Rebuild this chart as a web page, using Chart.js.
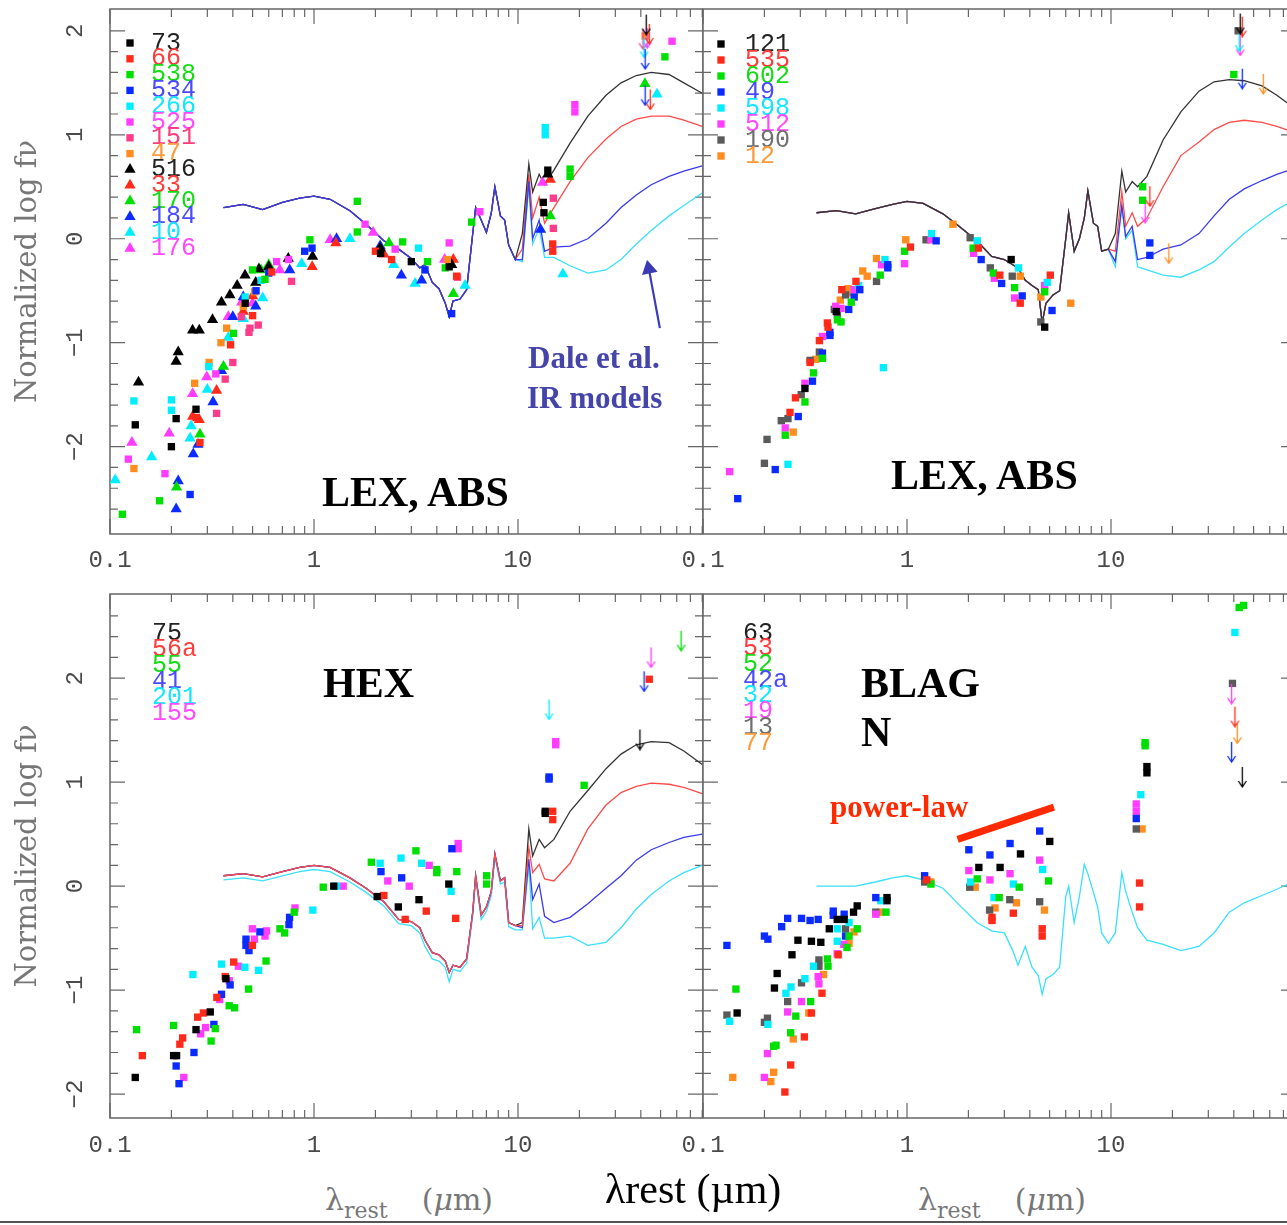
<!DOCTYPE html>
<html lang="en">
<head>
<meta charset="UTF-8">
<title>SED panels: LEX ABS, HEX, BLAGN</title>
<script src="https://cdn.jsdelivr.net/npm/chart.js@4"></script>
<style>
  html, body { margin: 0; padding: 0; background: #fff; overflow: hidden; }
  .page { position: relative; width: 1287px; height: 1225px; overflow: hidden; background: #fff; }
  canvas { position: absolute; }
  .tag { position: absolute; white-space: nowrap; line-height: 1; font-family: "Liberation Serif", "Times New Roman", serif; font-weight: bold; }
  .axt { position: absolute; white-space: nowrap; line-height: 1; font-family: "DejaVu Serif", serif; color: #777; font-size: 30px; }
  .axt sub { font-size: 22px; vertical-align: -8px; margin-right: 34px; }
  .rule { position: absolute; left: 0; top: 1221px; width: 1287px; height: 2px; background: #555; }
</style>
</head>
<body>
<div class="page">
  <canvas id="tl" width="703" height="575" style="left:0;top:0"></canvas>
  <canvas id="tr" width="696" height="575" style="left:600px;top:0"></canvas>
  <canvas id="bl" width="703" height="605" style="left:0;top:575px"></canvas>
  <canvas id="br" width="696" height="605" style="left:600px;top:575px"></canvas>

  <div class="tag" style="left:322px;top:471px;font-size:42px">LEX, ABS</div>
  <div class="tag" style="left:891px;top:454px;font-size:42px">LEX, ABS</div>
  <div class="tag" style="left:323px;top:662px;font-size:42px">HEX</div>
  <div class="tag" style="left:861px;top:662px;font-size:42px">BLAG</div>
  <div class="tag" style="left:861px;top:711px;font-size:42px">N</div>
  <div class="tag" style="left:528px;top:342px;font-size:31px;color:#4444aa">Dale et al.</div>
  <div class="tag" style="left:527px;top:382px;font-size:31px;color:#4444aa">IR models</div>
  <div class="tag" style="left:830px;top:791px;font-size:31px;color:#ff2a00">power-law</div>

  <div class="axt" style="left:325px;top:1185px">λ<sub>rest</sub>(<i>μ</i>m)</div>
  <div class="axt" style="left:918px;top:1185px">λ<sub>rest</sub>(<i>μ</i>m)</div>
  <div style="position:absolute;left:605px;top:1168px;line-height:1;font-family:'Liberation Serif',serif;font-size:42px;color:#000;white-space:nowrap">λrest (µm)</div>
  <div class="rule"></div>
</div>

<script>
// ---------- data ----------
// model wavelength grid (micron): stellar/PAH part and far-IR part
const baseLam = [0.36, 0.45, 0.56, 0.7, 0.85, 1.0, 1.2, 1.5, 1.8, 2.2, 2.6, 3.0, 3.3, 3.5, 3.8, 4.1, 4.4, 4.6, 4.8, 5.2, 5.6, 6.0, 6.2, 6.6, 7.0, 7.4, 7.7, 8.2, 8.6, 9.0, 9.7];
const tailLam = [10.5, 11.3, 11.8, 12.7, 13.5, 15, 18, 22, 27, 32, 38, 45, 55, 65, 80];

// top-left models
const tlBase = [0.30, 0.33, 0.28, 0.35, 0.39, 0.41, 0.38, 0.27, 0.14, -0.02, -0.10, -0.19, -0.28, -0.25, -0.42, -0.48, -0.62, -0.75, -0.60, -0.58, -0.49, 0.05, 0.30, 0.18, 0.06, 0.25, 0.50, 0.22, 0.18, -0.06, -0.20];
const tlTailBlack = [0.05, 0.72, 0.45, 0.62, 0.52, 0.66, 0.92, 1.18, 1.38, 1.50, 1.57, 1.60, 1.58, 1.50, 1.40];
const tlTailRed = [-0.10, 0.62, 0.20, 0.40, 0.15, 0.30, 0.55, 0.78, 0.96, 1.08, 1.15, 1.18, 1.18, 1.14, 1.08];
const tlTailBlue = [-0.20, 0.55, 0.0, 0.18, -0.12, -0.08, -0.07, 0.0, 0.15, 0.30, 0.42, 0.52, 0.60, 0.65, 0.70];
const tlTailCyan = [-0.22, 0.50, -0.05, 0.10, -0.18, -0.18, -0.26, -0.33, -0.30, -0.20, -0.05, 0.08, 0.22, 0.32, 0.44];

// top-right models
const trBase = [0.25, 0.27, 0.24, 0.29, 0.33, 0.36, 0.34, 0.24, 0.12, -0.02, -0.17, -0.20, -0.25, -0.28, -0.40, -0.45, -0.49, -0.81, -0.62, -0.54, -0.50, 0.0, 0.25, -0.12, 0.0, 0.20, 0.46, 0.15, 0.12, -0.12, -0.10];
const trTailBlack = [0.05, 0.65, 0.45, 0.55, 0.50, 0.60, 0.95, 1.22, 1.42, 1.51, 1.53, 1.52, 1.47, 1.38, 1.25];
const trTailRed = [-0.12, 0.45, 0.12, 0.25, 0.12, 0.20, 0.50, 0.80, 0.93, 1.05, 1.12, 1.14, 1.12, 1.08, 1.02];
const trTailBlue = [-0.22, 0.32, 0.02, 0.12, -0.20, -0.18, -0.10, -0.06, 0.05, 0.22, 0.38, 0.48, 0.56, 0.62, 0.68];
const trTailCyan = [-0.27, 0.31, 0.0, 0.08, -0.27, -0.30, -0.35, -0.37, -0.30, -0.22, -0.08, 0.05, 0.18, 0.28, 0.38];

// bottom-left models
const blBase = [0.10, 0.12, 0.09, 0.14, 0.18, 0.20, 0.18, 0.08, -0.02, -0.15, -0.32, -0.34, -0.40, -0.52, -0.64, -0.66, -0.72, -0.83, -0.76, -0.78, -0.70, -0.25, 0.10, -0.28, -0.20, -0.05, 0.31, 0.05, 0.08, -0.35, -0.38];
const blBaseCyan = [0.06, 0.08, 0.05, 0.10, 0.14, 0.16, 0.14, 0.04, -0.06, -0.19, -0.36, -0.38, -0.45, -0.58, -0.70, -0.72, -0.78, -0.92, -0.80, -0.82, -0.74, -0.29, 0.07, -0.32, -0.24, -0.09, 0.28, 0.02, 0.04, -0.39, -0.42];
const blTailBlack = [-0.35, 0.55, 0.29, 0.45, 0.37, 0.45, 0.72, 0.92, 1.13, 1.27, 1.36, 1.39, 1.38, 1.30, 1.17];
const blTailRed = [-0.38, 0.37, 0.13, 0.21, 0.07, 0.05, 0.22, 0.55, 0.78, 0.90, 0.96, 0.99, 0.98, 0.95, 0.89];
const blTailBlue = [-0.40, 0.26, -0.13, 0.02, -0.29, -0.35, -0.30, -0.17, -0.02, 0.10, 0.25, 0.35, 0.42, 0.47, 0.50];
const blTailCyan = [-0.42, 0.20, -0.41, -0.30, -0.50, -0.50, -0.48, -0.57, -0.54, -0.40, -0.22, -0.08, 0.05, 0.13, 0.20];

// bottom-right model
const brBase = [0.0, 0.0, 0.0, 0.04, 0.08, 0.10, 0.06, -0.02, -0.18, -0.35, -0.43, -0.45, -0.62, -0.76, -0.58, -0.78, -0.86, -1.04, -0.89, -0.85, -0.78, -0.10, 0.0, -0.35, -0.10, 0.21, 0.12, -0.06, -0.20, -0.45, -0.55];
const brTail = [-0.45, 0.13, -0.05, -0.25, -0.40, -0.52, -0.56, -0.62, -0.58, -0.45, -0.25, -0.16, -0.09, -0.03, 0.05];

// top-left sources
const tlNames = ['73', '66', '538', '534', '266', '525', '151', '47', '516', '33', '170', '184', '10', '176'];
const tlPoints = [
  [[0.133,-1.79],[0.2,-2.0],[0.211,-1.73],[0.264,-1.64],[0.46,-0.62],[2.12,-0.14],[3.0,-0.22],[4.6,-0.27],[13.3,0.35],[13.4,0.25],[14.0,0.66]],
  [[0.264,-1.72],[0.276,-1.96],[0.39,-1.02],[0.5,-0.74],[0.62,-0.32],[2.0,-0.12],[2.4,-0.2],[5.0,-0.36],[14.8,-0.05],[14.8,-0.12]],
  [[0.115,-2.65],[0.175,-2.52],[0.403,-0.91],[0.5,-0.3],[0.575,-0.39],[0.955,-0.01],[1.63,0.36],[1.63,0.065],[2.72,-0.03],[3.6,-0.22],[4.4,-0.28],[5.93,0.16],[18,0.67],[18,0.60],[52.5,1.75]],
  [[0.247,-2.46],[0.52,-0.50],[0.6,-0.33],[0.9,-0.12],[0.978,-0.09],[3.5,-0.30],[4.73,-0.72]],
  [[0.131,-1.56],[0.2,-1.55],[0.2,-1.65],[0.305,-1.23],[0.46,-0.56],[0.55,-0.40],[3.25,-0.09],[13.6,1.07],[13.6,1.0]],
  [[0.123,-2.12],[0.186,-2.26],[0.33,-1.30],[0.656,-0.22],[0.75,-0.2],[1.78,0.14],[2.5,-0.1],[4.6,-0.04],[6.5,0.26],[19,1.29],[19,1.22],[56.9,1.9]],
  [[0.333,-1.68],[0.367,-1.35],[0.4,-1.19],[0.44,-0.75],[0.48,-0.9],[0.485,-0.86],[0.533,-0.83],[0.776,-0.41],[5.05,-0.37],[14.9,0.39],[14.9,0.1]],
  [[0.131,-2.21],[0.26,-1.39],[0.306,-1.19],[0.35,-1.0],[0.373,-0.86],[0.45,-0.65],[0.512,-0.51],[4.5,-0.2],[42,1.95]],
  [[0.138,-1.38],[0.211,-1.18],[0.216,-1.09],[0.254,-0.88],[0.274,-0.88],[0.318,-0.78],[0.352,-0.61],[0.387,-0.54],[0.42,-0.45],[0.459,-0.35],[0.518,-0.42],[0.537,-0.29],[0.6,-0.27],[0.748,-0.19],[0.984,-0.17],[2.11,-0.09],[4.73,-0.25],[14.0,0.62]],
  [[0.254,-1.71],[0.274,-1.74],[0.333,-1.46],[0.45,-0.70],[0.5,-0.55],[0.98,-0.27],[1.28,-0.04],[2.2,-0.15],[4.82,-0.20],[14.4,0.57]],
  [[0.212,-2.39],[0.276,-1.88],[0.36,-1.23],[0.55,-0.30],[0.6,-0.25],[2.33,-0.04],[4.82,-0.53],[14.4,0.22],[41.9,1.49]],
  [[0.211,-2.60],[0.216,-2.33],[0.256,-2.07],[0.27,-1.98],[0.32,-1.57],[0.352,-1.27],[0.4,-0.75],[0.45,-0.56],[0.518,-0.65],[0.76,-0.30],[1.29,0.0],[2.11,-0.07],[2.68,-0.35],[3.37,-0.40],[12.9,0.09]],
  [[0.106,-2.32],[0.16,-2.10],[0.247,-1.92],[0.25,-1.80],[0.3,-1.45],[0.38,-0.95],[0.45,-0.77],[0.56,-0.57],[0.87,-0.24],[1.5,0.0],[2.46,-0.25],[3.13,-0.43],[5.5,-0.45],[16.6,-0.34],[48,1.39]],
  [[0.128,-1.96],[0.195,-1.87],[0.254,-1.49],[0.298,-1.33],[0.38,-0.75],[0.442,-0.61],[0.5,-0.62],[0.68,-0.30],[1.2,-0.01],[1.95,0.06],[4.37,-0.20],[13.2,0.54]]
];
const tlLimits = [[[42.5,2.06]], [[44,1.97],[44.5,1.34]], [], [[42,1.73],[42,1.38]], [[41.5,1.84]], [[43,1.93]], [[41,1.92]], [], [], [], [], [], [], []];

// top-right sources
const trNames = ['121', '535', '602', '49', '598', '512', '190', '12'];
const trPoints = [
  [[0.316,-1.44],[0.45,-0.70],[3.24,-0.20],[4.73,-0.85]],
  [[0.267,-1.67],[0.284,-1.53],[0.335,-1.19],[0.372,-0.98],[0.407,-0.81],[0.41,-0.85],[0.479,-0.49],[0.562,-0.41],[1.04,-0.08],[2.24,-0.09],[2.85,-0.35],[3.59,-0.62],[5.04,-0.35]],
  [[0.253,-1.89],[0.316,-1.57],[0.348,-1.29],[0.385,-1.15],[0.456,-0.78],[0.475,-0.80],[0.533,-0.61],[0.739,-0.35],[0.973,-0.12],[2.11,-0.09],[2.65,-0.33],[3.37,-0.47],[4.73,-0.51],[14.3,0.50],[14.3,0.37],[40,1.58]],
  [[0.148,-2.50],[0.226,-2.22],[0.293,-1.71],[0.344,-1.37],[0.385,-1.10],[0.419,-0.93],[0.419,-0.90],[0.518,-0.68],[0.551,-0.56],[0.587,-0.49],[0.805,-0.28],[0.805,-0.25],[1.39,-0.02],[2.31,-0.20],[2.91,-0.43],[3.67,-0.55],[5.14,-0.69],[15.5,-0.04],[15.5,-0.16]],
  [[0.261,-2.17],[0.58,-0.45],[0.766,-1.24],[0.78,-0.20],[1.32,0.05],[2.21,-0.02],[3.52,-0.28],[4.87,-0.42]],
  [[0.135,-2.24],[0.253,-1.82],[0.316,-1.39],[0.385,-0.94],[0.447,-0.65],[0.475,-0.67],[0.551,-0.49],[0.75,-0.25],[0.973,-0.24],[1.31,-0.01],[2.12,-0.14],[2.68,-0.38],[3.37,-0.57],[4.73,-0.45]],
  [[0.2,-2.16],[0.206,-1.93],[0.242,-1.75],[0.261,-1.73],[0.303,-1.50],[0.335,-1.17],[0.372,-1.09],[0.44,-0.68],[0.456,-0.73],[0.5,-0.54],[0.709,-0.41],[1.24,-0.01],[2.04,0.01],[2.56,-0.28],[3.28,-0.36],[4.53,-0.80],[42,2.0]],
  [[0.277,-1.86],[0.357,-1.16],[0.471,-0.59],[0.514,-0.48],[0.514,-0.52],[0.607,-0.31],[0.638,-0.36],[0.709,-0.19],[0.986,-0.01],[1.68,0.14],[3.59,-0.36],[4.53,-0.56],[6.35,-0.62]]
];
const trLimits = [[[43,2.07]], [[44,2.04],[15.5,0.41]], [], [[44,1.54]], [[42.5,1.9]], [[43,1.86],[14.7,0.25]], [], [[55.8,1.49],[19.2,-0.14]]];

// bottom-left sources
const blNames = ['75', '56a', '55', '41', '201', '155'];
const blPoints = [
  [[0.133,-1.84],[0.205,-1.63],[0.212,-1.63],[0.264,-1.38],[0.31,-1.21],[0.37,-0.89],[1.25,0.0],[2.04,-0.10],[2.59,-0.20],[3.27,-0.13],[4.58,0.02],[13.6,0.72],[13.6,0.70]],
  [[0.144,-1.63],[0.22,-1.52],[0.227,-1.46],[0.269,-1.26],[0.287,-1.22],[0.334,-1.07],[0.367,-0.87],[0.404,-0.73],[0.499,-0.57],[2.2,-0.09],[2.8,-0.32],[3.55,-0.24],[4.95,-0.31],[14.8,0.72],[14.8,0.64],[44,1.99]],
  [[0.135,-1.38],[0.205,-1.34],[0.313,-1.49],[0.328,-1.37],[0.384,-1.15],[0.408,-1.17],[0.478,-0.99],[0.582,-0.72],[0.681,-0.41],[0.718,-0.45],[0.80,-0.25],[1.11,-0.01],[1.91,0.23],[3.16,0.34],[4.0,0.16],[4.0,0.13],[5.01,0.14],[7.02,0.10],[7.02,0.02],[21.1,0.97]],
  [[0.211,-1.73],[0.218,-1.90],[0.258,-1.60],[0.323,-1.33],[0.352,-1.04],[0.388,-0.95],[0.464,-0.51],[0.464,-0.57],[0.48,-0.62],[0.543,-0.44],[0.754,-0.37],[0.759,-0.30],[2.13,0.14],[2.69,0.08],[4.74,0.36],[14.2,1.05],[14.2,1.03]],
  [[0.255,-0.85],[0.352,-0.75],[0.458,-0.78],[0.535,-0.81],[0.987,-0.23],[1.29,0.0],[2.11,0.22],[2.67,0.27],[3.37,0.22],[4.7,-0.05]],
  [[0.23,-1.84],[0.278,-1.42],[0.294,-1.36],[0.345,-1.09],[0.384,-0.91],[0.426,-0.77],[0.499,-0.41],[0.51,-0.51],[0.575,-0.48],[0.585,-0.43],[0.807,-0.21],[1.39,0.0],[2.3,0.05],[2.93,0.0],[3.67,0.20],[5.09,0.41],[5.09,0.36],[15.3,1.39],[15.3,1.36]]
];
const blLimits = [[[39.6,1.41]], [], [[63,2.36]], [[41.5,1.97]], [[14.2,1.70]], [[44.9,2.20]]];

// bottom-right sources
const brNames = ['63', '53', '52', '42a', '32', '19', '13', '77'];
const brPoints = [
  [[0.147,-1.22],[0.224,-0.98],[0.231,-0.84],[0.273,-0.66],[0.292,-0.52],[0.34,-0.53],[0.378,-0.54],[0.416,-0.41],[0.455,-0.32],[0.492,-0.32],[0.547,-0.25],[0.57,-0.19],[0.798,-0.11],[0.798,-0.14],[2.25,0.18],[2.86,0.18],[3.6,0.31],[5.01,0.43],[15.0,1.15],[15.0,1.09]],
  [[0.252,-1.98],[0.269,-1.72],[0.314,-1.45],[0.34,-1.22],[0.383,-1.03],[0.46,-0.66],[1.25,0.06],[2.61,-0.30],[2.61,-0.33],[3.32,-0.26],[4.6,-0.41],[4.6,-0.48],[13.8,0.03],[13.8,-0.20]],
  [[0.145,-0.99],[0.222,-1.54],[0.228,-1.53],[0.269,-1.41],[0.285,-1.25],[0.337,-1.11],[0.407,-0.70],[0.41,-0.77],[0.508,-0.59],[0.52,-0.48],[0.57,-0.41],[0.789,-0.25],[1.31,0.02],[2.21,0.07],[2.83,-0.11],[3.55,-0.01],[4.94,0.05],[14.7,1.38],[14.7,1.35],[42.5,2.68],[44.7,2.70]],
  [[0.131,-0.57],[0.2,-0.48],[0.208,-0.51],[0.243,-0.39],[0.26,-0.31],[0.304,-0.31],[0.335,-0.33],[0.367,-0.32],[0.435,-0.24],[0.435,-0.28],[0.492,-0.27],[0.5,-0.48],[0.703,-0.11],[1.22,0.10],[2.01,0.35],[2.55,0.30],[3.2,0.41],[4.47,0.53],[13.3,0.65]],
  [[0.135,-1.30],[0.208,-1.33],[0.255,-1.03],[0.27,-0.97],[0.316,-0.89],[0.348,-0.77],[0.455,-0.41],[0.455,-0.53],[0.52,-0.35],[0.744,-0.14],[2.05,0.04],[2.67,-0.11],[3.32,0.02],[4.62,0.16],[14.0,0.88],[40.5,2.44]],
  [[0.2,-1.84],[0.207,-1.61],[0.26,-1.21],[0.304,-1.11],[0.367,-0.87],[0.37,-0.94],[0.455,-0.65],[0.49,-0.56],[0.703,-0.27],[2.01,0.15],[2.55,0.06],[3.2,0.12],[4.47,0.25],[13.3,0.79],[13.3,0.72]],
  [[0.131,-1.24],[0.2,-1.31],[0.207,-1.27],[0.26,-1.11],[0.304,-0.93],[0.37,-0.77],[0.37,-0.71],[0.5,-0.41],[0.703,-0.25],[1.22,0.04],[2.03,-0.01],[2.54,-0.23],[3.19,-0.13],[4.47,-0.15],[13.3,0.55],[39.4,1.95]],
  [[0.14,-1.84],[0.215,-1.88],[0.222,-1.79],[0.277,-1.47],[0.33,-1.22],[0.39,-0.85],[0.52,-0.55],[0.55,-0.44],[0.744,-0.25],[1.31,0.04],[2.16,-0.01],[2.7,-0.21],[3.44,-0.16],[4.72,-0.23],[14.2,0.55]]
];
const brLimits = [[[44,1.05]], [[40.5,1.63]], [], [[39,1.29]], [], [[39,1.85]], [], [[41.6,1.47]]];

// annotations (data coordinates)
const daleArrow = [[49.6, -0.86], [43.8, -0.29]];
const powerLaw = [[1.77, 0.45], [5.25, 0.76]];

// axis ranges
const xMin = 0.1, xMax = 80.7;
const xTickLabels = [0.1, 1, 10];
const yTickLabels = [-2, -1, 0, 1, 2];

// ---------- styles ----------
const COL = { black: '#000000', red: '#ff2a1a', green: '#00e000', blue: '#0a2aff', cyan: '#00eeff', magenta: '#ff3cff', pink: '#ff3c8c', orange: '#ff8c1e', gray: '#5a5a5a' };
const TXT = { black: '#222222', red: '#ff3b3b', green: '#14dc14', blue: '#4a4aff', cyan: '#14e6ff', magenta: '#ff4aff', pink: '#ff3c7c', orange: '#ff9a38', gray: '#707070' };
const LINE = { black: '#333333', red: '#ff4a4a', blue: '#3a3aee', cyan: '#3ae0ff' };

const tlStyle = [['black','rect'],['red','rect'],['green','rect'],['blue','rect'],['cyan','rect'],['magenta','rect'],['pink','rect'],['orange','rect'],
  ['black','triangle'],['red','triangle'],['green','triangle'],['blue','triangle'],['cyan','triangle'],['magenta','triangle']];
const trStyle = ['black','red','green','blue','cyan','magenta','gray','orange'].map(c => [c, 'rect']);
const blStyle = ['black','red','green','blue','cyan','magenta'].map(c => [c, 'rect']);
const brStyle = ['black','red','green','blue','cyan','magenta','gray','orange'].map(c => [c, 'rect']);

function arrowImg(color) {
  const c = document.createElement('canvas');
  c.width = 11; c.height = 22;
  const g = c.getContext('2d');
  g.strokeStyle = color; g.lineWidth = 1.3;
  g.beginPath();
  g.moveTo(5.5, 1); g.lineTo(5.5, 21);
  g.moveTo(1.5, 15); g.lineTo(5.5, 21); g.lineTo(9.5, 15);
  g.stroke();
  return c;
}

function xy(pts) { return pts.map(p => ({ x: p[0], y: p[1] })); }

function curve(base, tail, color) {
  const lam = baseLam.concat(tailLam);
  const val = base.concat(tail);
  return {
    showLine: true, data: lam.map((x, i) => ({ x, y: val[i] })),
    borderColor: color, borderWidth: 1.3, pointRadius: 0, tension: 0, fill: false
  };
}

function sources(names, points, limits, style) {
  const sets = [];
  names.forEach((name, i) => {
    const [ck, shape] = style[i];
    sets.push({
      label: name, data: xy(points[i]), keyRow: i, keyColor: TXT[ck],
      backgroundColor: COL[ck], borderWidth: 0, pointStyle: shape,
      pointRadius: shape === 'triangle' ? 6.5 : 5.2
    });
    if (limits[i].length) {
      sets.push({ data: xy(limits[i]), pointStyle: arrowImg(COL[ck]), pointRadius: 5 });
    }
  });
  return sets;
}

// ---------- plugins ----------
const isPow10 = v => Math.abs(Math.log10(v) - Math.round(Math.log10(v))) < 1e-9;

const frameTicks = {
  id: 'frameTicks',
  beforeDatasetsDraw(chart) {
    const { ctx, chartArea: a, scales: { x, y } } = chart;
    ctx.save();
    ctx.strokeStyle = '#666'; ctx.lineWidth = 1.5;
    ctx.strokeRect(a.left, a.top, a.right - a.left, a.bottom - a.top);
    ctx.lineWidth = 1.2;
    ctx.beginPath();
    x.ticks.forEach(t => {
      const e = Math.pow(10, Math.floor(Math.log10(t.value) + 1e-9));
      const s = t.value / e;
      if (Math.abs(s - Math.round(s)) > 1e-6) return;
      const px = x.getPixelForValue(t.value);
      const len = isPow10(t.value) ? 15 : 8;
      ctx.moveTo(px, a.bottom); ctx.lineTo(px, a.bottom - len);
      ctx.moveTo(px, a.top); ctx.lineTo(px, a.top + len);
    });
    y.ticks.forEach(t => {
      const v = t.value;
      if (Math.abs(v * 5 - Math.round(v * 5)) > 1e-6) return;
      const py = y.getPixelForValue(v);
      const len = Math.abs(v - Math.round(v)) < 1e-6 ? 15 : 8;
      ctx.moveTo(a.left, py); ctx.lineTo(a.left + len, py);
      ctx.moveTo(a.right, py); ctx.lineTo(a.right - len, py);
    });
    ctx.stroke();
    ctx.restore();
  }
};

const seriesKey = {
  id: 'seriesKey',
  afterDraw(chart, args, opts) {
    const { ctx, chartArea: a } = chart;
    ctx.save();
    ctx.font = '25px "Liberation Mono", monospace';
    ctx.textBaseline = 'middle';
    chart.data.datasets.forEach(ds => {
      if (ds.keyRow === undefined) return;
      const yy = a.top + opts.y0 + ds.keyRow * opts.dy;
      if (opts.markers) {
        ctx.fillStyle = ds.backgroundColor;
        Chart.helpers.drawPoint(ctx, { pointStyle: ds.pointStyle, radius: ds.pointRadius, rotation: 0, borderWidth: 0 }, a.left + opts.mx, yy);
      }
      ctx.fillStyle = ds.keyColor;
      ctx.fillText(ds.label, a.left + opts.tx, yy);
    });
    ctx.restore();
  }
};

function makeChart(id, datasets, o) {
  return new Chart(document.getElementById(id), {
    type: 'scatter',
    data: { datasets },
    options: {
      responsive: false, animation: false, events: [],
      layout: { autoPadding: false, padding: { top: o.top, left: 0, right: 0, bottom: 0 } },
      plugins: { legend: { display: false }, tooltip: { enabled: false }, seriesKey: o.key },
      scales: {
        x: {
          type: 'logarithmic', min: xMin, max: xMax,
          grid: { display: false, drawTicks: false }, border: { display: false },
          ticks: {
            autoSkip: false, maxRotation: 0, padding: o.xPad, color: '#4a4a4a',
            font: { family: 'Liberation Mono', size: 24 },
            callback: v => xTickLabels.some(t => Math.abs(t - v) < 1e-9) ? String(v) : ''
          },
          afterFit: s => { s.height = o.xH; s.paddingLeft = 0; s.paddingRight = 0; }
        },
        y: {
          min: o.yMin, max: o.yMax,
          grid: { display: false, drawTicks: false }, border: { display: false },
          ticks: {
            display: o.yLabels, stepSize: 0.2, autoSkip: false, minRotation: 90, maxRotation: 90,
            crossAlign: 'center', padding: 20, color: '#4a4a4a',
            font: { family: 'Liberation Mono', size: 24 },
            callback: v => {
              const r = Math.round(v);
              if (Math.abs(v - r) > 1e-6 || !yTickLabels.includes(r)) return '';
              return r < 0 ? '\u2212' + Math.abs(r) : String(r);
            }
          },
          title: {
            display: o.yLabels, text: 'Normalized log f\u03BD', color: '#777',
            font: { family: 'DejaVu Serif', size: 29 }, padding: { top: 11, bottom: 0 }
          },
          afterFit: s => { s.width = o.yW; s.paddingTop = 0; s.paddingBottom = 0; }
        }
      }
    },
    plugins: [frameTicks, seriesKey]
  });
}

// ---------- panels ----------
const topY = { yMin: -2.84, yMax: 2.21, top: 9, xH: 41, xPad: 12 };
const botY = { yMin: -2.23, yMax: 2.81, top: 19, xH: 62, xPad: 13 };

const daleSet = {
  showLine: true, data: xy(daleArrow), borderColor: '#3b3bb8', backgroundColor: '#3b3bb8',
  borderWidth: 2.2, pointRadius: [0, 7], pointStyle: 'triangle', pointRotation: -11.7
};
const powerSet = {
  showLine: true, data: xy(powerLaw), borderColor: '#ff2a00', borderWidth: 7,
  borderCapStyle: 'butt', pointRadius: 0
};

makeChart('tl', [].concat(
  sources(tlNames, tlPoints, tlLimits, tlStyle), [daleSet],
  [curve(tlBase, tlTailBlue, LINE.blue), curve(tlBase, tlTailBlack, LINE.black),
   curve(tlBase, tlTailRed, LINE.red), curve(tlBase, tlTailCyan, LINE.cyan)]
), Object.assign({}, topY, { yW: 110, yLabels: true, key: { y0: 34, dy: 15.8, mx: 20, tx: 41, markers: true } }));

makeChart('tr', [].concat(
  sources(trNames, trPoints, trLimits, trStyle),
  [curve(trBase, trTailBlack, LINE.black), curve(trBase, trTailRed, LINE.red),
   curve(trBase, trTailBlue, LINE.blue), curve(trBase, trTailCyan, LINE.cyan)]
), Object.assign({}, topY, { yW: 103, yLabels: false, key: { y0: 35, dy: 16, mx: 18, tx: 42, markers: true } }));

makeChart('bl', [].concat(
  sources(blNames, blPoints, blLimits, blStyle),
  [curve(blBase, blTailRed, LINE.red), curve(blBase, blTailBlue, LINE.blue),
   curve(blBaseCyan, blTailCyan, LINE.cyan), curve(blBase, blTailBlack, LINE.black)]
), Object.assign({}, botY, { yW: 110, yLabels: true, key: { y0: 39, dy: 16, mx: 0, tx: 42, markers: false } }));

makeChart('br', [].concat(
  sources(brNames, brPoints, brLimits, brStyle), [powerSet],
  [curve(brBase, brTail, LINE.cyan)]
), Object.assign({}, botY, { yW: 103, yLabels: false, key: { y0: 39, dy: 15.7, mx: 0, tx: 40, markers: false } }));
</script>
</body>
</html>
